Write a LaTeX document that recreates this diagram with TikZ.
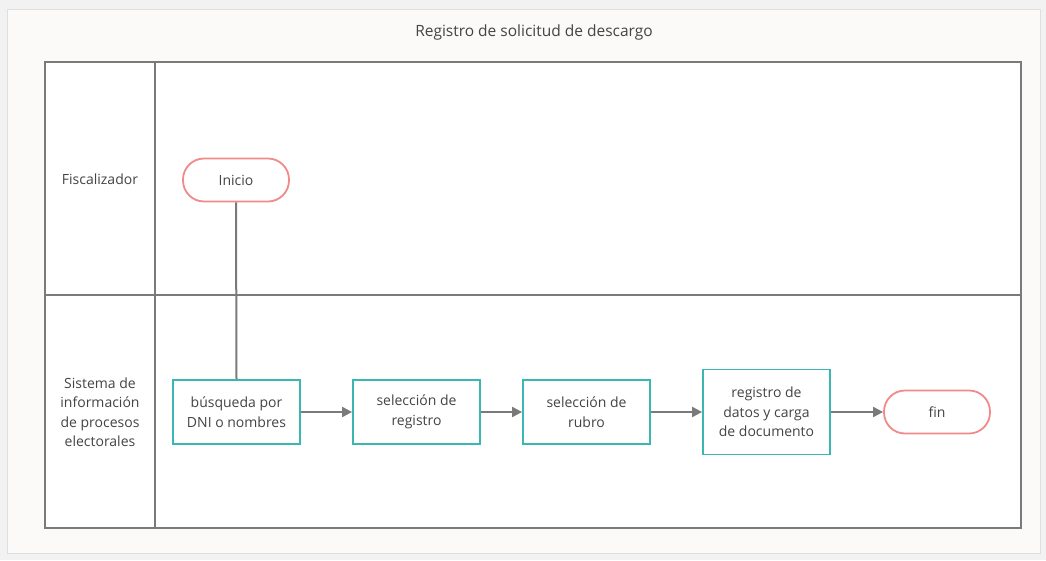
\documentclass[tikz,border=0pt]{standalone}
\usepackage{fontspec}
\setmainfont{Open Sans}
\usetikzlibrary{arrows.meta}
\definecolor{teal1}{HTML}{3AB7B2}
\definecolor{pink1}{HTML}{F28A8A}
\definecolor{txt}{HTML}{444444}
\definecolor{lane}{HTML}{7A7A7A}
\definecolor{bgout}{HTML}{F2F2F2}
\definecolor{bgin}{HTML}{FBFAF8}
\definecolor{arr}{HTML}{7A7A7A}
\tikzset{
  base/.style={font=\fontsize{14}{19.5}\selectfont, text=txt, align=center},
  proc/.style={base, draw=teal1, line width=1.8pt, fill=white, minimum width=127pt, minimum height=64pt, inner sep=2pt},
  term/.style={base, draw=pink1, line width=1.8pt, fill=white, rounded corners=21pt, minimum width=106pt, minimum height=43pt},
  flow/.style={draw=arr, line width=2pt, -{Triangle[length=10pt,width=10pt]}},
  link/.style={draw=arr, line width=2pt},
  laneline/.style={draw=lane, line width=1.4pt},
}
\begin{document}
\begin{tikzpicture}[x=1pt,y=-1pt]
\useasboundingbox (0,0) rectangle (1046,560);
\fill[bgout] (0,0) rectangle (1046,560);
\filldraw[fill=bgin, draw=gray!25, line width=1pt] (7,9) rectangle (1040,553);
\node[base, font=\fontsize{15.5}{19}\selectfont] (title) at (534,32) {Registro de solicitud de descargo};
% pool
\filldraw[fill=white, laneline] (45,62) rectangle (1021,528);
\draw[laneline] (155,62) -- (155,528);
\draw[laneline] (45,295) -- (1021,295);
\node[base] (l1) at (100,179) {Fiscalizador};
\node[base] (l2) at (100,412) {Sistema de\\información\\de procesos\\electorales};
% nodes
\node[term] (inicio) at (236,180) {Inicio};
\node[proc] (b1) at (236.5,412) {búsqueda por\\DNI o nombres};
\node[proc] (b2) at (416.5,412) {selección de\\registro};
\node[proc] (b3) at (586.5,412) {selección de\\rubro};
\node[proc, minimum height=85pt] (b4) at (766.5,412) {registro de\\datos y carga\\de documento};
\node[term] (fin) at (937,412) {fin};
\draw[link] (inicio.south) -- (b1.north);
\draw[flow] (b1) -- (b2);
\draw[flow] (b2) -- (b3);
\draw[flow] (b3) -- (b4);
\draw[flow] (b4) -- (fin);
\end{tikzpicture}
\end{document}
